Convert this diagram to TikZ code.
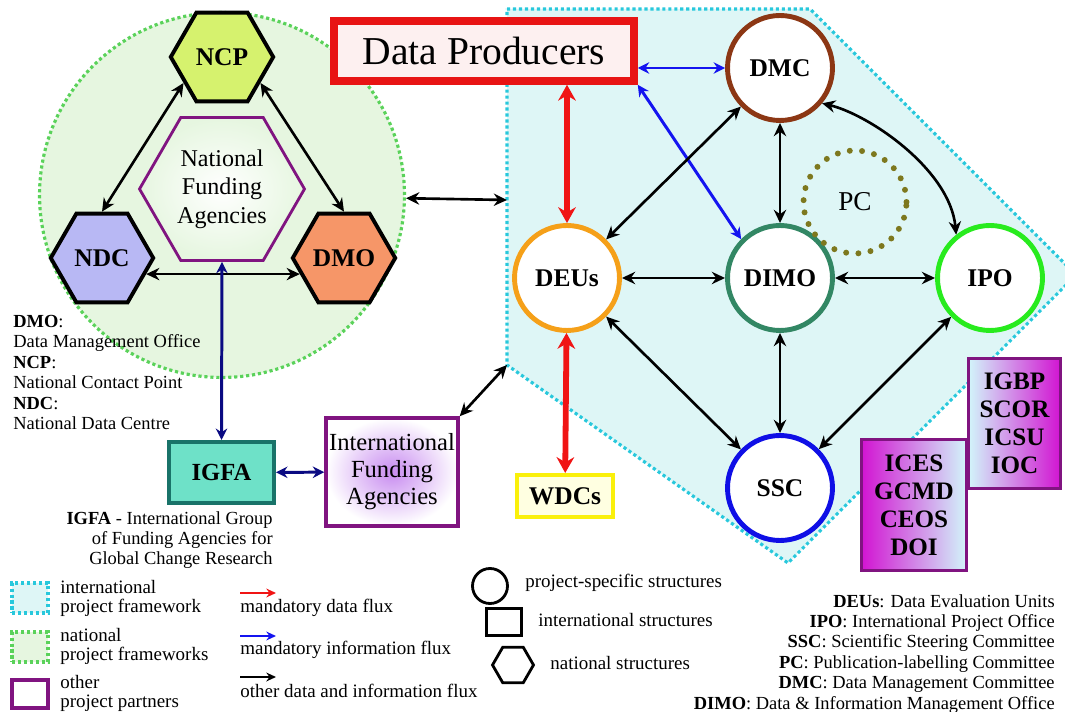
\documentclass[tikz,border=0pt]{standalone}
\usepackage{fontspec}
\setmainfont{Liberation Serif}
\usetikzlibrary{shapes.geometric, arrows.meta, positioning}
\definecolor{natgreen}{RGB}{90,210,90}
\definecolor{natfill}{RGB}{230,246,224}
\definecolor{intcyan}{RGB}{40,200,220}
\definecolor{intfill}{RGB}{222,246,246}
\definecolor{ncpfill}{RGB}{214,242,110}
\definecolor{ndcfill}{RGB}{184,184,244}
\definecolor{dmofill}{RGB}{246,150,104}
\definecolor{partner}{RGB}{128,20,128}
\definecolor{dpred}{RGB}{232,20,20}
\definecolor{dpfill}{RGB}{253,240,240}
\definecolor{dmcbrown}{RGB}{140,55,20}
\definecolor{deusorange}{RGB}{245,160,25}
\definecolor{dimoteal}{RGB}{50,135,100}
\definecolor{ipogreen}{RGB}{40,235,30}
\definecolor{sscblue}{RGB}{15,15,230}
\definecolor{pcolive}{RGB}{125,120,30}
\definecolor{igfafill}{RGB}{110,225,200}
\definecolor{igfateal}{RGB}{25,115,105}
\definecolor{wdcyellow}{RGB}{250,240,10}
\definecolor{wdcfill}{RGB}{255,255,225}
\definecolor{datared}{RGB}{240,20,20}
\definecolor{infoblue}{RGB}{20,20,240}
\definecolor{fundnavy}{RGB}{10,10,130}
\definecolor{orgmagenta}{RGB}{210,20,210}
\definecolor{orgcyan}{RGB}{210,245,250}
\definecolor{ifaglow}{RGB}{200,140,240}
\tikzset{
    fwline/.style={line width=1.8pt, dash pattern=on 1.8pt off 1.6pt},
    hexa/.style={regular polygon, regular polygon sides=6, draw=black, line width=2.2pt, inner sep=0pt, minimum size=2.05cm, font=\fontsize{14.5}{16}\selectfont\bfseries},
    unit/.style={circle, draw=#1, line width=2.8pt, fill=white, inner sep=0pt, minimum size=2.1cm, font=\fontsize{14.5}{16}\selectfont\bfseries},
    org/.style={draw=partner, line width=1.8pt, inner sep=0pt, align=center, font=\fontsize{14.3}{16}\selectfont\bfseries},
    flux/.style={line width=1.5pt, >={Stealth[length=7.5pt,width=7pt]}, <->},
    dataflux/.style={draw=datared, line width=3.3pt, >={Stealth[length=9pt,width=10pt]}, <->},
    infoflux/.style={draw=infoblue, line width=1.7pt, >={Stealth[length=6.5pt,width=6.5pt]}, <->},
    fundflux/.style={draw=fundnavy, line width=1.7pt, >={Stealth[length=6.5pt,width=6.5pt]}, <->},
    legflux/.style={line width=1.6pt, >={Stealth[length=5.5pt,width=5pt]}, ->},
    legtext/.style={inner sep=0pt, font=\fontsize{10.8}{10.8}\selectfont, align=left},
    abbr/.style={inner sep=0pt, font=\fontsize{10.5}{11.6}\selectfont},
}
\begin{document}
\begin{tikzpicture}[x=0.02cm, y=-0.02cm]
    \useasboundingbox (0,0) rectangle (1065,712);
    % frameworks
    \node[circle, draw=natgreen, fill=natfill, fwline, minimum size=7.3cm, inner sep=0pt] (natfw) at (222,195) {};
    \draw[draw=intcyan, fill=intfill, fwline] (507,9) -- (810,9) -- (1076,275) -- (788,563) -- (507,365) -- cycle;
    \coordinate (fwl) at (507,200);
    \coordinate (fwc) at (507,365);
    % national structures
    \node[hexa, fill=ncpfill] (ncp) at (222,57) {NCP};
    \node[hexa, fill=ndcfill] (ndc) at (102,258) {NDC};
    \node[hexa, fill=dmofill] (dmo) at (344,258) {DMO};
    \node[regular polygon, regular polygon sides=6, draw=partner, line width=1.6pt, inner sep=0pt, minimum size=3.3cm, inner color=white, outer color=natfill, align=center, font=\fontsize{13.7}{16.2}\selectfont] (nfa) at (222,189) {National\\Funding\\Agencies};
    % project structures
    \node[draw=dpred, fill=dpfill, line width=4.3pt, minimum width=6cm, minimum height=1.2cm, font=\fontsize{22.5}{24}\selectfont] (dp) at (484,51) {Data Producers};
    \node[unit=dmcbrown] (dmc) at (780,68) {DMC};
    \node[unit=deusorange] (deus) at (567,278) {DEUs};
    \node[unit=dimoteal] (dimo) at (780,278) {DIMO};
    \node[unit=ipogreen] (ipo) at (990,278) {IPO};
    \node[unit=sscblue] (ssc) at (780,488) {SSC};
    \node[circle, draw=pcolive, line width=3.4pt, dash pattern=on 0pt off 7pt, line cap=round, minimum size=2.06cm, inner sep=0pt, font=\fontsize{15.5}{17}\selectfont] (pc) at (855,202) {PC};
    \node[draw=wdcyellow, fill=wdcfill, line width=2.3pt, minimum width=1.92cm, minimum height=0.84cm, inner sep=0pt, font=\fontsize{14.5}{16}\selectfont\bfseries] (wdcs) at (565,496) {WDCs};
    % other partners
    \node[draw=igfateal, fill=igfafill, line width=2.3pt, minimum width=2.1cm, minimum height=1.22cm, inner sep=0pt, font=\fontsize{14}{16}\selectfont\bfseries] (igfa) at (221.5,472.5) {IGFA};
    \node[draw=partner, line width=2pt, minimum width=2.64cm, minimum height=2.16cm, inner sep=0pt, inner color=ifaglow, outer color=white, align=center, font=\fontsize{14}{15.3}\selectfont] (ifa) at (392,472) {International\\Funding\\Agencies};
    \node[org, minimum width=1.84cm, minimum height=2.6cm, left color=orgcyan, right color=orgmagenta] (igbp) at (1014.5,423.5) {IGBP\\SCOR\\ICSU\\IOC};
    \node[org, minimum width=2.1cm, minimum height=2.62cm, left color=orgmagenta, right color=orgcyan] (ices) at (914,505) {ICES\\GCMD\\CEOS\\DOI};
    % fluxes
    \draw[flux] (ncp.214) -- (ndc.north);
    \draw[flux] (ncp.326) -- (dmo.north);
    \draw[flux] (ndc.-20) -- (dmo.200);
    \draw[fundflux] (nfa.south) -- (igfa.north);
    \draw[fundflux] (igfa) -- (ifa);
    \draw[flux] (natfw) -- (fwl);
    \draw[flux] (ifa.north east) -- (fwc);
    \draw[dataflux] (deus.north |- dp.south) -- (deus.north);
    \draw[dataflux] (deus) -- (wdcs);
    \draw[infoflux] (dp.east |- dmc.west) -- (dmc.west);
    \draw[infoflux] (dp.south east) -- (dimo.135);
    \draw[flux] (deus) -- (dmc);
    \draw[flux] (dmc) -- (dimo);
    \draw[flux] (dmc.-40) .. controls (870,115) and (950,170) .. (ipo.128);
    \draw[flux] (deus) -- (dimo);
    \draw[flux] (dimo) -- (ipo);
    \draw[flux] (deus) -- (ssc);
    \draw[flux] (dimo) -- (ssc);
    \draw[flux] (ipo) -- (ssc);
    % abbreviations
    \node[abbr, align=left, anchor=north west] (abbrnat) at (13,315) {\textbf{DMO}:\\Data Management Office\\\textbf{NCP}:\\National Contact Point\\\textbf{NDC}:\\National Data Centre};
    \node[abbr, align=right, anchor=north east] (igfatxt) at (273,511) {\textbf{IGFA} - International Group\\of Funding Agencies for\\Global Change Research};
    \node[abbr, align=right, anchor=north east] (abbrint) at (1055,594) {\textbf{DEUs}: Data Evaluation Units\\\textbf{IPO}: International Project Office\\\textbf{SSC}: Scientific Steering Committee\\\textbf{PC}: Publication-labelling Committee\\\textbf{DMC}: Data Management Committee\\\textbf{DIMO}: Data \& Information Management Office};
    % legend: frameworks
    \node[draw=intcyan, fill=intfill, fwline, minimum width=0.72cm, minimum height=0.6cm, inner sep=0pt] (legint) at (30,598) {};
    \node[draw=natgreen, fill=natfill, fwline, minimum width=0.72cm, minimum height=0.6cm, inner sep=0pt] (legnat) at (30,647) {};
    \node[draw=partner, line width=2pt, minimum width=0.72cm, minimum height=0.56cm, inner sep=0pt] (legoth) at (30,694) {};
    \node[legtext, anchor=north west] (leginttxt) at (60,580) {international\\project framework};
    \node[legtext, anchor=north west] (legnattxt) at (60,628) {national\\project frameworks};
    \node[legtext, anchor=north west] (legothtxt) at (60,675) {other\\project partners};
    % legend: fluxes
    \coordinate (lra) at (240,593);
    \coordinate (lrb) at (276,593);
    \coordinate (lba) at (240,636);
    \coordinate (lbb) at (276,636);
    \coordinate (lka) at (240,677);
    \coordinate (lkb) at (276,677);
    \draw[legflux, draw=datared] (lra) -- (lrb);
    \draw[legflux, draw=infoblue] (lba) -- (lbb);
    \draw[legflux] (lka) -- (lkb);
    \node[legtext, anchor=base west] (legdatatxt) at (240,612) {mandatory data flux};
    \node[legtext, anchor=base west] (leginfotxt) at (240,654) {mandatory information flux};
    \node[legtext, anchor=base west] (legothertxt) at (240,697) {other data and information flux};
    % legend: structures
    \node[circle, draw, line width=1.6pt, minimum size=0.7cm, inner sep=0pt] (legcirc) at (490,586) {};
    \node[draw, line width=1.6pt, minimum width=0.7cm, minimum height=0.54cm, inner sep=0pt] (legrect) at (504,622) {};
    \node[regular polygon, regular polygon sides=6, draw, line width=1.6pt, minimum size=0.82cm, inner sep=0pt] (leghex) at (513,665) {};
    \node[legtext, anchor=base west] (legcirctxt) at (525,587) {project-specific structures};
    \node[legtext, anchor=base west] (legrecttxt) at (538,626) {international structures};
    \node[legtext, anchor=base west] (leghextxt) at (550,669) {national structures};
\end{tikzpicture}
\end{document}
